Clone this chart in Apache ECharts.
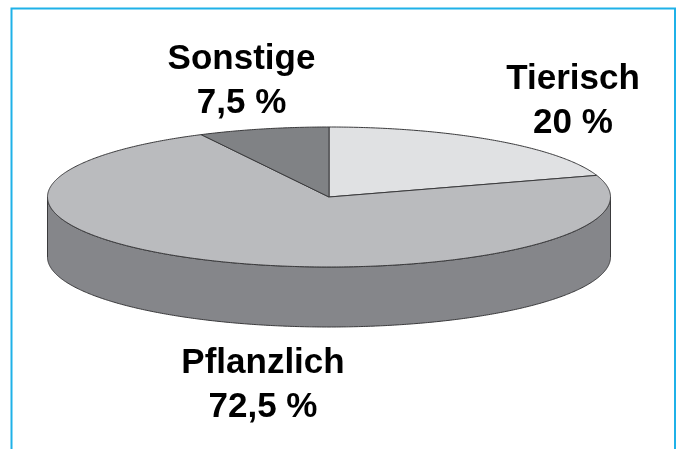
<!DOCTYPE html>
<html>
<head>
<meta charset="utf-8">
<style>html,body{margin:0;padding:0;background:#fff}#c{width:678px;height:449px}</style>
<script src="https://cdn.jsdelivr.net/npm/echarts@6/dist/echarts.min.js"></script>
</head>
<body>
<div id="c"></div>
<script>
const categories = ['Tierisch', 'Pflanzlich', 'Sonstige'];
const values = [20, 72.5, 7.5];
const topColors = ['#E0E1E3', '#BABBBE', '#808285'];
const wallColor = '#85868A';
const edgeColor = '#3A3A3C';
const frameColor = '#1FB1E8';
const labelAnchors = [[573, 101], [263, 385], [241.5, 81]];

const CX = 329, CY = 197, RX = 281.5, RY = 70, DEPTH = 60;
const total = values.reduce((a, b) => a + b, 0);

function pt(deg, dy) {
  const a = deg * Math.PI / 180;
  return [CX + RX * Math.sin(a), CY - RY * Math.cos(a) + (dy || 0)];
}
function arc(from, to, dy) {
  const pts = [];
  const n = Math.max(2, Math.ceil(Math.abs(to - from) / 0.5));
  for (let i = 0; i <= n; i++) pts.push(pt(from + (to - from) * i / n, dy));
  return pts;
}
function fmt(v) { return String(v).replace('.', ',') + ' %'; }

function renderItem(params, api) {
  const i = params.dataIndex;
  let start = 0;
  for (let k = 0; k < i; k++) start += values[k];
  const from = start / total * 360;
  const to = from + api.value(0) / total * 360;
  const children = [];
  const visFrom = Math.max(from, 90), visTo = Math.min(to, 270);
  if (visTo > visFrom) {
    children.push({
      type: 'polygon',
      shape: { points: arc(visFrom, visTo, 0).concat(arc(visTo, visFrom, DEPTH)) },
      style: { fill: wallColor, stroke: edgeColor, lineWidth: 1 }
    });
  }
  children.push({
    type: 'polygon',
    shape: { points: [[CX, CY]].concat(arc(from, to, 0)) },
    style: { fill: topColors[i], stroke: edgeColor, lineWidth: 1, lineJoin: 'round' }
  });
  children.push({
    type: 'text',
    z2: 10,
    style: {
      x: labelAnchors[i][0], y: labelAnchors[i][1],
      text: categories[i] + '\n' + fmt(values[i]),
      font: 'bold 35px "Liberation Sans", Arial, sans-serif',
      lineHeight: 44, fill: '#000', align: 'center', verticalAlign: 'middle'
    }
  });
  return { type: 'group', children };
}

const chart = echarts.init(document.getElementById('c'), null, { renderer: 'canvas' });
chart.setOption({
  animation: false,
  backgroundColor: '#fff',
  graphic: [{
    type: 'polyline',
    shape: { points: [[11.5, 449], [11.5, 8.5], [675, 8.5], [675, 449]] },
    style: { fill: null, stroke: frameColor, lineWidth: 2 }
  }],
  series: [{
    type: 'custom',
    coordinateSystem: 'none',
    renderItem,
    data: values.map((v, i) => ({ name: categories[i], value: [v] }))
  }]
});
</script>
</body>
</html>
